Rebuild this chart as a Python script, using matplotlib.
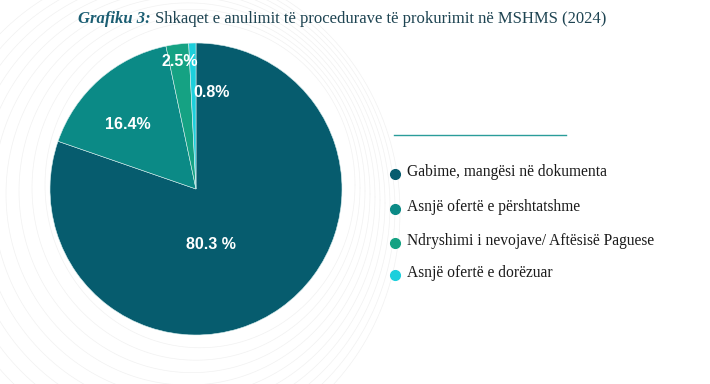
import numpy as np
import matplotlib
matplotlib.use("Agg")
from matplotlib import pyplot as plt

# data
categories = ["Gabime, mangësi në dokumenta",
              "Asnjë ofertë e përshtatshme",
              "Ndryshimi i nevojave/ Aftësisë Paguese",
              "Asnjë ofertë e dorëzuar"]
shares = [80.3, 16.4, 2.5, 0.8]
pct_labels = ["80.3 %", "16.4%", "2.5%", "0.8%"]

colors = ["#065c6e", "#0b8a86", "#15a283", "#1ccfdc"]
# label positions inside the pie (axes data units, radius = 1)
label_xy = [(0.10, -0.38), (-0.47, 0.44), (-0.11, 0.87), (0.11, 0.66)]

W, H = 710, 384
fig = plt.figure(figsize=(W / 100, H / 100), dpi=100)
fig.patch.set_facecolor("white")

# faint decorative curves in the background
bg = fig.add_axes([0, 0, 1, 1], zorder=0)
bg.set_xlim(0, W)
bg.set_ylim(H, 0)
bg.axis("off")
t = np.linspace(0, 2 * np.pi, 400)
for i in range(10):
    r = 155 + i * 9
    cx = 200 - i * 4
    cy = 185 + i * 3
    bg.plot(cx + r * np.cos(t), cy + r * 1.05 * np.sin(t), color="#f1f1f1", lw=0.5)

# pie
R = 146
cx, cy = 196, 189
ax = fig.add_axes([(cx - R) / W, (H - cy - R) / H, 2 * R / W, 2 * R / H], zorder=2)
wedges, _ = ax.pie(shares, colors=colors, startangle=90, counterclock=False,
                   radius=1, wedgeprops=dict(edgecolor="#d8eeee", linewidth=0.4))
ax.set_xlim(-1, 1)
ax.set_ylim(-1, 1)
ax.set_aspect("auto")
for (x, y), lab in zip(label_xy, pct_labels):
    ax.text(x, y, lab, ha="center", va="center", color="white",
            fontsize=11.5, fontweight="bold", family="Liberation Sans")

# title
fig.text(78 / W, 1 - 19 / H, "Grafiku 3:", family="Liberation Serif", style="italic",
         fontweight="bold", fontsize=12, color="#1b5e73", va="center", ha="left")
fig.text(155 / W, 1 - 19 / H, "Shkaqet e anulimit të procedurave të prokurimit në MSHMS (2024)",
         family="Liberation Serif", fontsize=12, color="#1e4452", va="center", ha="left")

# legend
fig.add_artist(plt.Line2D([394 / W, 566 / W], [1 - 135 / H, 1 - 135 / H],
                          color="#2a9d9a", lw=1.0))
ys = [172, 207, 241, 273]
for y, lab, c in zip(ys, categories, colors):
    fig.add_artist(plt.Line2D([395 / W], [1 - (y + 2) / H], marker="o", markersize=7,
                              color=c, linestyle="none"))
    fig.text(407 / W, 1 - y / H, lab, family="Liberation Serif", fontsize=11.2,
             color="#1a1a1a", va="center", ha="left")

fig.savefig("out.png", dpi=100, facecolor="white")
